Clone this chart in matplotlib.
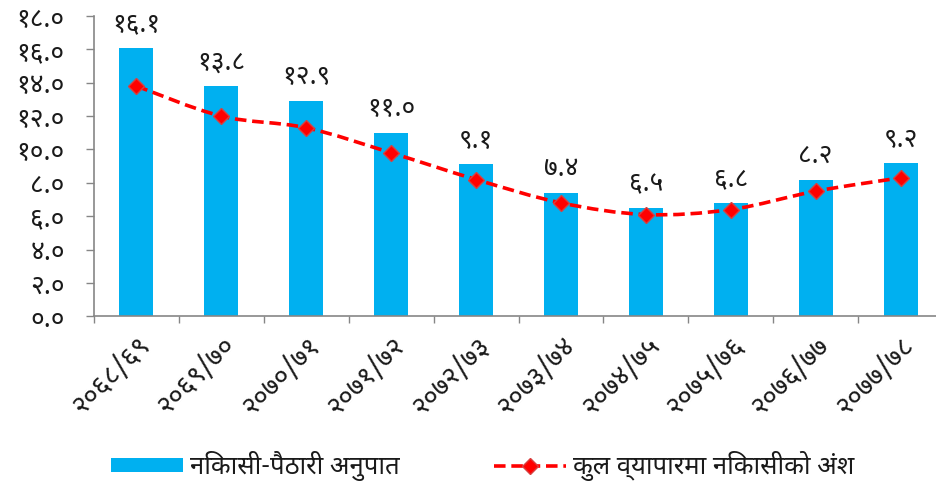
import matplotlib
matplotlib.use("Agg")
import matplotlib.pyplot as plt
import matplotlib.transforms as mtransforms
from matplotlib import font_manager
from matplotlib.path import Path
from matplotlib.patches import PathPatch, Patch
from matplotlib.lines import Line2D
import numpy as np

# data
years = ['२०६८/६९', '२०६९/७०', '२०७०/७१', '२०७१/७२', '२०७२/७३',
         '२०७३/७४', '२०७४/७५', '२०७५/७६', '२०७६/७७', '२०७७/७८']
export_import_ratio = [16.1, 13.8, 12.9, 11.0, 9.1, 7.4, 6.5, 6.8, 8.2, 9.2]
export_share = [13.8, 12.0, 11.3, 9.8, 8.2, 6.8, 6.1, 6.4, 7.5, 8.3]
bar_label = 'निकासी-पैठारी अनुपात'
line_label = 'कुल व्यापारमा निकासीको अंश'

# pick a devanagari font that is installed
installed = {f.name for f in font_manager.fontManager.ttflist}
deva = None
for name in ['Noto Sans Devanagari', 'Hind', 'Mukta', 'Poppins', 'Tiro Devanagari Hindi',
             'Anek Devanagari', 'Annapurna SIL', 'FreeSans']:
    if name in installed:
        deva = name
        break
plt.rcParams['font.family'] = [deva, 'DejaVu Sans'] if deva else ['DejaVu Sans']

DIG = str.maketrans('0123456789', '०१२३४५६७८९')


def np_num(v):
    return ('%.1f' % v).translate(DIG)


BLUE = '#00B0F0'
RED = '#FF0000'
GRAY = '#868686'
TXT = '#1a1a1a'

fig = plt.figure(figsize=(9.37, 4.91), dpi=100)
ax = fig.add_axes([94 / 937, 0.3558, 849 / 937, 0.6116])

x = np.arange(len(years))
ax.bar(x, export_import_ratio, width=0.40, color=BLUE, zorder=2)

for xi, v in zip(x, export_import_ratio):
    ax.annotate(np_num(v), (xi, v), xytext=(0, 7), textcoords='offset points',
                ha='center', va='bottom', fontsize=19, color=TXT)

# smooth curve through the points (bezier, like excel's smoothed line)
pts = np.column_stack([x, export_share]).astype(float)
verts = [pts[0]]
codes = [Path.MOVETO]
for i in range(len(pts) - 1):
    p0 = pts[i - 1] if i > 0 else pts[i]
    p1 = pts[i]
    p2 = pts[i + 1]
    p3 = pts[i + 2] if i + 2 < len(pts) else pts[i + 1]
    verts += [p1 + (p2 - p0) / 6, p2 - (p3 - p1) / 6, p2]
    codes += [Path.CURVE4] * 3
ax.add_patch(PathPatch(Path(verts, codes), facecolor='none', edgecolor=RED,
                       lw=2.6, linestyle=(0, (3.2, 1.6)), zorder=3))
ax.plot(x, export_share, linestyle='none', marker='D', ms=8.5, color=RED,
        mec='#D84040', mew=1, zorder=4)

ax.set_xlim(-0.5, len(years) - 0.5)
ax.set_ylim(0, 18)
ax.set_yticks(np.arange(0, 19, 2))
ax.set_yticklabels([np_num(v) for v in np.arange(0, 19, 2)], fontsize=19, color=TXT)
ax.set_xticks(x)
ax.set_xticklabels(years, rotation=45, ha='right', va='top',
                   rotation_mode='anchor', fontsize=20, color=TXT)
shift = mtransforms.ScaledTranslation(10 / 100, 0, fig.dpi_scale_trans)
for lab in ax.get_xticklabels():
    lab.set_transform(lab.get_transform() + shift)
ax.set_xticks(np.arange(-0.5, len(years), 1), minor=True)
ax.tick_params(axis='x', which='major', length=0, pad=11)
ax.tick_params(axis='x', which='minor', length=5, color=GRAY, width=1)
ax.tick_params(axis='y', length=6, color=GRAY, width=1, pad=15)

for s in ['top', 'right']:
    ax.spines[s].set_visible(False)
for s in ['left', 'bottom']:
    ax.spines[s].set_color(GRAY)
    ax.spines[s].set_linewidth(1.2)

handles = [Patch(facecolor=BLUE, edgecolor='none'),
           Line2D([], [], color=RED, lw=2.6, linestyle=(0, (3.2, 1.6)),
                  marker='D', ms=8.5, mec='#D84040')]
leg = fig.legend(handles, [bar_label, line_label], loc='center',
                 bbox_to_anchor=(0.515, 0.051), ncol=2, frameon=False, fontsize=18.5,
                 handlelength=2.8, handleheight=0.5, handletextpad=0.25,
                 columnspacing=3.7)
for t in leg.get_texts():
    t.set_color(TXT)

fig.savefig('out.png', dpi=100)
